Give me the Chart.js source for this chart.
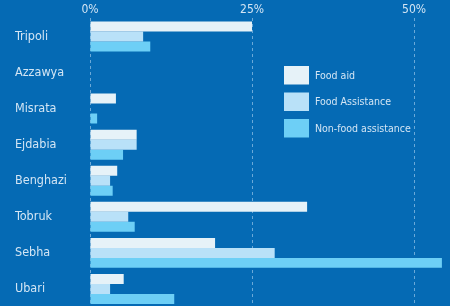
<!DOCTYPE html>
<html>
<head>
<meta charset="utf-8">
<script src="https://cdn.jsdelivr.net/npm/chart.js@4/dist/chart.umd.min.js"></script>
<style>
  html, body { margin: 0; padding: 0; background: #056ab4; overflow: hidden; }
  #wrap { position: relative; width: 450px; height: 307px; }
</style>
</head>
<body>
<div id="wrap"><canvas id="chart"></canvas></div>
<script>
// Values (percent)
const cities = ['Tripoli', 'Azzawya', 'Misrata', 'Ejdabia', 'Benghazi', 'Tobruk', 'Sebha', 'Ubari'];
const foodAid = [25.0, 0, 4.0, 7.2, 4.2, 33.5, 19.3, 5.2];
const foodAssistance = [8.2, 0, 0, 7.2, 3.1, 5.9, 28.5, 3.1];
const nonFood = [9.3, 0, 1.1, 5.1, 3.5, 6.9, 54.3, 13.0];
const xTicks = [0, 25, 50];

const seriesNames = ['Food aid', 'Food Assistance', 'Non-food assistance'];
const seriesColors = ['#e6f2f8', '#b9e1f8', '#6dcff6'];

const textColor = '#d3e5f4';
const fontFamily = '"DejaVu Sans Condensed", "Liberation Sans Narrow", sans-serif';

// Legend sits inside the plot area, right of the bars
const insideLegend = {
  id: 'insideLegend',
  afterDraw(chart) {
    const ctx = chart.ctx;
    ctx.save();
    ctx.font = '10.5px ' + fontFamily;
    ctx.textBaseline = 'middle';
    ctx.textAlign = 'left';
    chart.data.datasets.forEach((ds, i) => {
      const y = 66 + i * 26.5;
      ctx.fillStyle = ds.backgroundColor;
      ctx.fillRect(284, y, 25, 18.5);
      ctx.fillStyle = textColor;
      ctx.fillText(ds.label, 315, y + 10);
    });
    ctx.restore();
  }
};

new Chart(document.getElementById('chart'), {
  type: 'bar',
  data: {
    labels: cities,
    datasets: [
      { label: seriesNames[0], data: foodAid, backgroundColor: seriesColors[0] },
      { label: seriesNames[1], data: foodAssistance, backgroundColor: seriesColors[1] },
      { label: seriesNames[2], data: nonFood, backgroundColor: seriesColors[2] }
    ]
  },
  options: {
    indexAxis: 'y',
    responsive: true,
    maintainAspectRatio: false,
    animation: false,
    layout: { padding: { left: 15, right: 0, top: 2, bottom: 0 } },
    datasets: {
      bar: { categoryPercentage: 0.83, barPercentage: 1.0, borderWidth: 0 }
    },
    plugins: {
      legend: { display: false },
      tooltip: { enabled: false }
    },
    scales: {
      x: {
        position: 'top',
        min: 0,
        max: 55.55,
        afterBuildTicks: (scale) => {
          scale.ticks = xTicks.map(v => ({ value: v }));
        },
        ticks: {
          color: textColor,
          font: { family: fontFamily, size: 12 },
          padding: 1,
          callback: (v) => v + '%'
        },
        grid: {
          color: 'rgba(190, 220, 245, 0.55)',
          lineWidth: 1,
          drawTicks: false
        },
        border: { display: false, dash: [3, 3] }
      },
      y: {
        afterFit: (scale) => {
          scale.width = 75;
          scale.paddingTop = 0;
          scale.paddingBottom = 0;
        },
        ticks: {
          color: textColor,
          crossAlign: 'far',
          font: { family: fontFamily, size: 12.5 }
        },
        grid: { display: false },
        border: { display: false }
      }
    }
  },
  plugins: [insideLegend]
});
</script>
</body>
</html>
